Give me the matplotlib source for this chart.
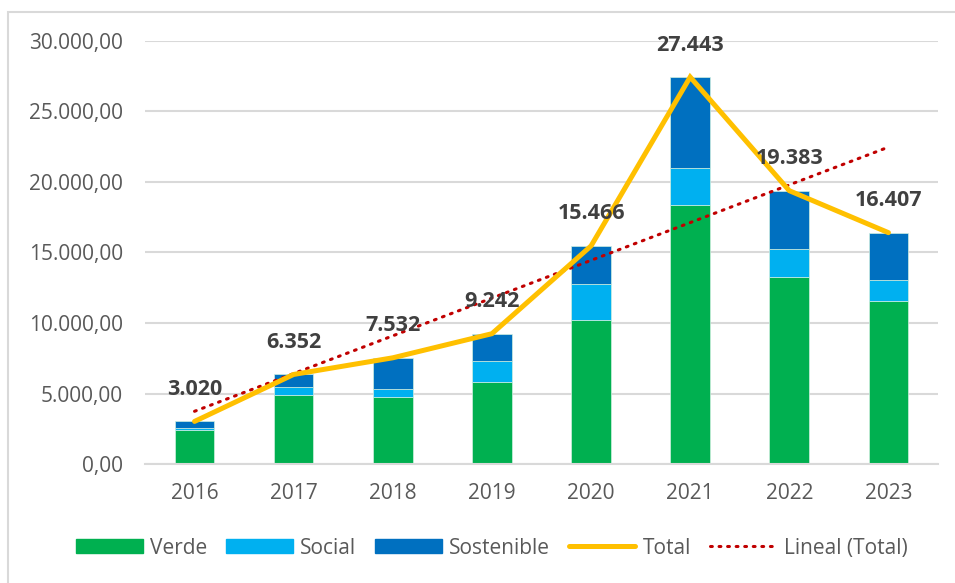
import matplotlib
matplotlib.use('Agg')
import matplotlib.pyplot as plt
import numpy as np
from matplotlib.patches import Rectangle
from matplotlib.lines import Line2D
from matplotlib.ticker import FuncFormatter

plt.rcParams['font.family'] = ['Open Sans', 'DejaVu Sans']

# data
years = ['2016', '2017', '2018', '2019', '2020', '2021', '2022', '2023']
verde = [2400, 4870, 4780, 5800, 10190, 18350, 13240, 11580]
social = [120, 600, 540, 1500, 2550, 2640, 2010, 1470]
sostenible = [500, 882, 2212, 1942, 2726, 6453, 4133, 3357]
total = [3020, 6352, 7532, 9242, 15466, 27443, 19383, 16407]

c_verde = '#00B050'
c_social = '#00B0F0'
c_sost = '#0070C0'
c_total = '#FFC000'
c_trend = '#C00000'
txt = '#595959'
grid = '#D9D9D9'

fig = plt.figure(figsize=(9.55, 5.83), dpi=100)
ax = fig.add_axes([0.1518, 0.2041, 0.8304, 0.7256])

x = np.arange(len(years))
w = 0.4
bottom2 = np.array(verde) + np.array(social)
ax.bar(x, verde, w, color=c_verde, edgecolor='#D0F0E0', linewidth=0.5, zorder=2)
ax.bar(x, social, w, bottom=verde, color=c_social, edgecolor='#D0F0E0', linewidth=0.5, zorder=2)
ax.bar(x, sostenible, w, bottom=bottom2, color=c_sost, edgecolor='#D0F0E0', linewidth=0.5, zorder=2)

ax.plot(x, total, color=c_total, linewidth=3.6, solid_joinstyle='miter', solid_capstyle='round', zorder=4)

# linear trend of the total, like Excel's "Lineal"
slope, intercept = np.polyfit(x, total, 1)
ax.plot(x, slope * x + intercept, color=c_trend, linewidth=2.2, linestyle=(0, (0.6, 2.2)),
        dash_capstyle='round', zorder=3)

for xi, t in zip(x, total):
    lbl = f'{t:,}'.replace(',', '.')
    ax.annotate(lbl, (xi, t), xytext=(0, 23), textcoords='offset points', ha='center', va='center',
                fontsize=15.5, fontweight='bold', color='#404040', zorder=5)

ax.set_xlim(-0.5, len(years) - 0.5)
ax.set_ylim(0, 30000)
ax.set_yticks(np.arange(0, 30001, 5000))
ax.yaxis.set_major_formatter(FuncFormatter(
    lambda v, p: f'{v:,.2f}'.replace(',', 'X').replace('.', ',').replace('X', '.')))
ax.set_xticks(x)
ax.set_xticklabels(years)
ax.tick_params(axis='both', length=0, labelsize=15, labelcolor=txt)
ax.tick_params(axis='y', pad=16)
ax.tick_params(axis='x', pad=14)
ax.grid(axis='y', color=grid, linewidth=1.5, zorder=0)
ax.set_axisbelow(True)
for s in ['top', 'right', 'left']:
    ax.spines[s].set_visible(False)
ax.spines['bottom'].set_color(grid)
ax.spines['bottom'].set_linewidth(1.5)

# chart frame
fig.patches.append(Rectangle((8 / 955, -0.1), 1.2, 1 - 12 / 583 + 0.1, transform=fig.transFigure,
                             fill=False, edgecolor='#D9D9D9', linewidth=1.5))

handles = [
    Rectangle((0, 0), 1, 1, color=c_verde),
    Rectangle((0, 0), 1, 1, color=c_social),
    Rectangle((0, 0), 1, 1, color=c_sost),
    Line2D([], [], color=c_total, linewidth=3.6, solid_capstyle='round'),
    Line2D([], [], color=c_trend, linewidth=2.2, linestyle=(0, (0.6, 2.2)), dash_capstyle='round'),
]
labels = ['Verde', 'Social', 'Sostenible', 'Total', 'Lineal (Total)']
fig.legend(handles, labels, loc='center', bbox_to_anchor=(0.515, 0.06), ncol=5, frameon=False,
           fontsize=15, labelcolor=txt, handlelength=3.2, handleheight=0.65, handletextpad=0.35,
           columnspacing=0.9)

fig.savefig('out.png', dpi=100, facecolor='white')
